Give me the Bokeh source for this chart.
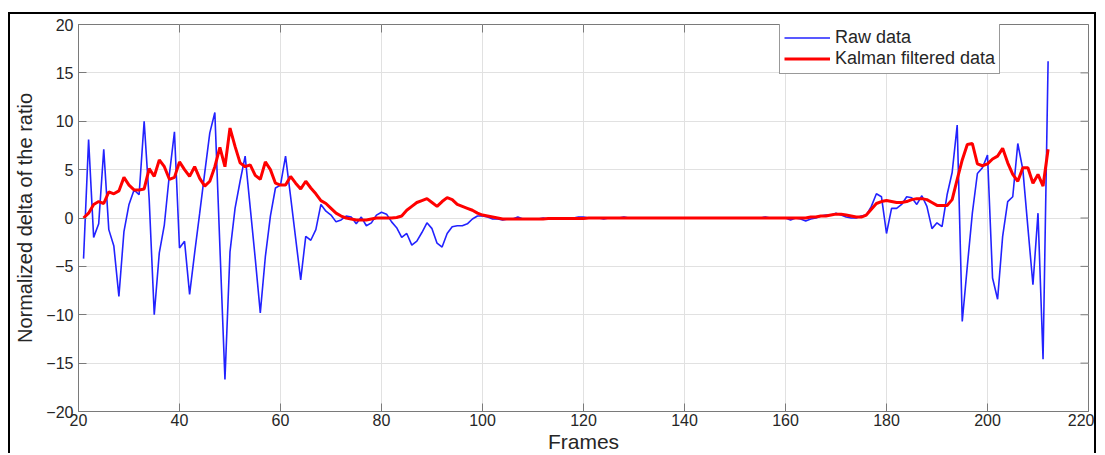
import math
from bokeh.plotting import figure
from bokeh.models import Legend, LegendItem, FixedTicker
from bokeh.embed import file_html
from bokeh.resources import INLINE

frames = list(range(21, 213))

raw_data = [
    -4.2, 8.1, -2.0, -0.6, 7.1, -1.2, -2.9, -8.1, -1.4, 1.4,
    2.9, 2.4, 10.0, 1.9, -10.0, -3.6, -0.7, 4.5, 8.9, -3.1,
    -2.4, -7.9, -3.6, 0.5, 4.7, 8.8, 10.9, -3.0, -16.7, -3.5,
    1.0, 3.8, 6.4, 1.1, -4.2, -9.8, -4.0, 0.2, 3.1, 3.4,
    6.4, 2.2, -2.1, -6.4, -1.9, -2.3, -1.2, 1.4, 0.7, 0.3,
    -0.4, -0.2, 0.2, 0.1, -0.6, 0.1, -0.8, -0.5, 0.3, 0.6,
    0.4, -0.4, -1.0, -2.0, -1.6, -2.8, -2.4, -1.5, -0.5, -1.1,
    -2.6, -3.0, -1.6, -0.9, -0.8, -0.8, -0.6, -0.1, 0.2, 0.2,
    0.1, -0.1, -0.1, -0.2, -0.1, -0.1, 0.1, -0.1, -0.1, -0.1,
    -0.1, 0.0, -0.1, 0.0, -0.1, 0.0, 0.0, 0.0, 0.1, 0.1,
    0.0, 0.0, 0.0, -0.1, 0.0, 0.0, 0.0, 0.1, 0.0, 0.0,
    0.0, 0.0, 0.0, 0.0, 0.0, 0.0, 0.0, 0.0, 0.0, 0.0,
    0.0, 0.0, 0.0, 0.0, 0.0, 0.0, 0.0, 0.0, 0.0, 0.0,
    0.0, 0.0, 0.0, 0.0, 0.0, 0.1, 0.0, 0.0, 0.0, 0.0,
    -0.2, 0.0, -0.1, -0.3, -0.1, 0.0, 0.2, 0.3, 0.3, 0.5,
    0.3, 0.1, 0.0, 0.0, 0.2, 0.3, 1.2, 2.5, 2.2, -1.6,
    1.0, 1.0, 1.4, 2.2, 2.1, 1.4, 2.3, 1.2, -1.1, -0.5,
    -0.9, 2.4, 4.7, 9.6, -10.7, -5.0, 0.5, 4.6, 5.2, 6.5,
    -6.2, -8.4, -1.9, 1.7, 2.2, 7.7, 5.0, -1.0, -6.9, 0.5,
    -14.6, 16.2,
]

kalman_data = [
    0.0, 0.5, 1.4, 1.7, 1.5, 2.7, 2.5, 2.8, 4.2, 3.4,
    2.9, 2.9, 3.0, 5.1, 4.3, 6.0, 5.3, 4.0, 4.2, 5.8,
    5.0, 4.3, 5.3, 4.1, 3.3, 3.8, 5.3, 7.3, 5.3, 9.3,
    7.4, 5.7, 5.3, 5.5, 4.4, 4.0, 5.8, 5.0, 3.6, 3.4,
    3.4, 4.3, 3.6, 3.0, 3.8, 3.1, 2.5, 1.8, 1.5, 1.0,
    0.5, 0.2, 0.0, -0.1, -0.2, -0.2, -0.2, -0.1, 0.0, 0.0,
    0.0, 0.0, 0.05, 0.2, 0.8, 1.2, 1.6, 1.8, 2.0, 1.6,
    1.2, 1.7, 2.1, 1.9, 1.4, 1.2, 1.0, 0.8, 0.5, 0.3,
    0.2, 0.1, 0.0, -0.1, -0.1, -0.1, -0.1, -0.1, -0.1, -0.1,
    -0.1, -0.1, -0.05, -0.05, -0.05, -0.05, -0.05, -0.05, -0.05, -0.05,
    0.0, 0.0, 0.0, 0.0, 0.0, 0.0, 0.0, 0.0, 0.0, 0.0,
    0.0, 0.0, 0.0, 0.0, 0.0, 0.0, 0.0, 0.0, 0.0, 0.0,
    0.0, 0.0, 0.0, 0.0, 0.0, 0.0, 0.0, 0.0, 0.0, 0.0,
    0.0, 0.0, 0.0, 0.0, 0.0, 0.0, 0.0, 0.0, 0.0, 0.0,
    0.0, 0.0, 0.0, 0.0, 0.1, 0.1, 0.2, 0.2, 0.3, 0.4,
    0.4, 0.3, 0.2, 0.1, 0.1, 0.3, 0.9, 1.5, 1.7, 1.8,
    1.7, 1.6, 1.6, 1.7, 1.9, 2.0, 2.0, 1.9, 1.6, 1.3,
    1.3, 1.3, 1.9, 4.0, 6.0, 7.6, 7.7, 5.6, 5.4, 5.6,
    6.1, 6.4, 7.2, 5.7, 4.5, 3.8, 5.2, 5.2, 3.6, 4.5,
    3.3, 7.1,
]

x_ticks = [20, 40, 60, 80, 100, 120, 140, 160, 180, 200, 220]
y_ticks = [-20, -15, -10, -5, 0, 5, 10, 15, 20]
X_MIN, X_MAX = 20, 220
Y_MIN, Y_MAX = -20, 20

FONT = "Liberation Sans"
AXIS_COL = "#7a7a7a"
TEXT_COL = "#262626"

p = figure(width=1088, height=441, x_range=(X_MIN, X_MAX), y_range=(Y_MIN, Y_MAX),
           output_backend="svg", toolbar_location=None,
           min_border_left=68, min_border_right=10, min_border_top=10,
           min_border_bottom=44)
# black frame around the whole picture (open at the bottom, as in the reference)
p.styles = {"border-top": "2px solid black", "border-left": "2px solid black",
            "border-right": "2px solid black",
            "margin-left": "8px", "margin-top": "12px"}

p.outline_line_color = AXIS_COL
p.outline_line_width = 1
p.background_fill_color = "white"
p.border_fill_color = "white"

p.xaxis.ticker = FixedTicker(ticks=x_ticks)
p.yaxis.ticker = FixedTicker(ticks=y_ticks)
p.xgrid.ticker = FixedTicker(ticks=x_ticks)
p.ygrid.ticker = FixedTicker(ticks=y_ticks)
p.grid.grid_line_color = "#e1e1e1"
p.grid.grid_line_width = 1

for ax in [p.xaxis[0], p.yaxis[0]]:
    ax.axis_line_color = AXIS_COL
    ax.major_tick_line_color = AXIS_COL
    ax.major_tick_in = 8
    ax.major_tick_out = 0
    ax.minor_tick_line_color = None
    ax.major_label_text_font = FONT
    ax.major_label_text_font_size = "16px"
    ax.major_label_text_color = TEXT_COL
    ax.axis_label_text_font = FONT
    ax.axis_label_text_font_style = "normal"
    ax.axis_label_text_color = TEXT_COL

p.xaxis.major_label_standoff = 2
p.yaxis.major_label_standoff = 5
p.xaxis.axis_label = "Frames"
p.xaxis.axis_label_text_font_size = "21px"
p.xaxis.axis_label_standoff = 1
p.yaxis.axis_label = "Normalized delta of the ratio"
p.yaxis.axis_label_text_font_size = "20px"
p.yaxis.axis_label_standoff = 7

# inward tick marks on the top and right edges of the box (clipped half-dashes)
p.scatter(x=x_ticks, y=[Y_MAX] * len(x_ticks), marker="dash", size=16,
          angle=math.pi / 2, line_color=AXIS_COL, line_width=1)
p.scatter(x=[X_MAX] * len(y_ticks), y=y_ticks, marker="dash", size=16,
          line_color=AXIS_COL, line_width=1)

r1 = p.line(frames, raw_data, line_color="#2222ff", line_width=1.6)
r2 = p.line(frames, kalman_data, line_color="#ff0000", line_width=3)

legend = Legend(items=[LegendItem(label="Raw data", renderers=[r1]),
                       LegendItem(label="Kalman filtered data", renderers=[r2])],
                location=(701, 337))
legend.label_text_font = FONT
legend.label_text_font_size = "18px"
legend.label_text_color = TEXT_COL
legend.glyph_width = 46
legend.glyph_height = 19
legend.label_height = 19
legend.spacing = 0
legend.padding = 4
legend.margin = 0
legend.label_standoff = 5
legend.border_line_color = "#333333"
legend.border_line_width = 1
legend.background_fill_color = "white"
legend.background_fill_alpha = 1
p.add_layout(legend)

open("out.html", "w").write(file_html(p, INLINE))
